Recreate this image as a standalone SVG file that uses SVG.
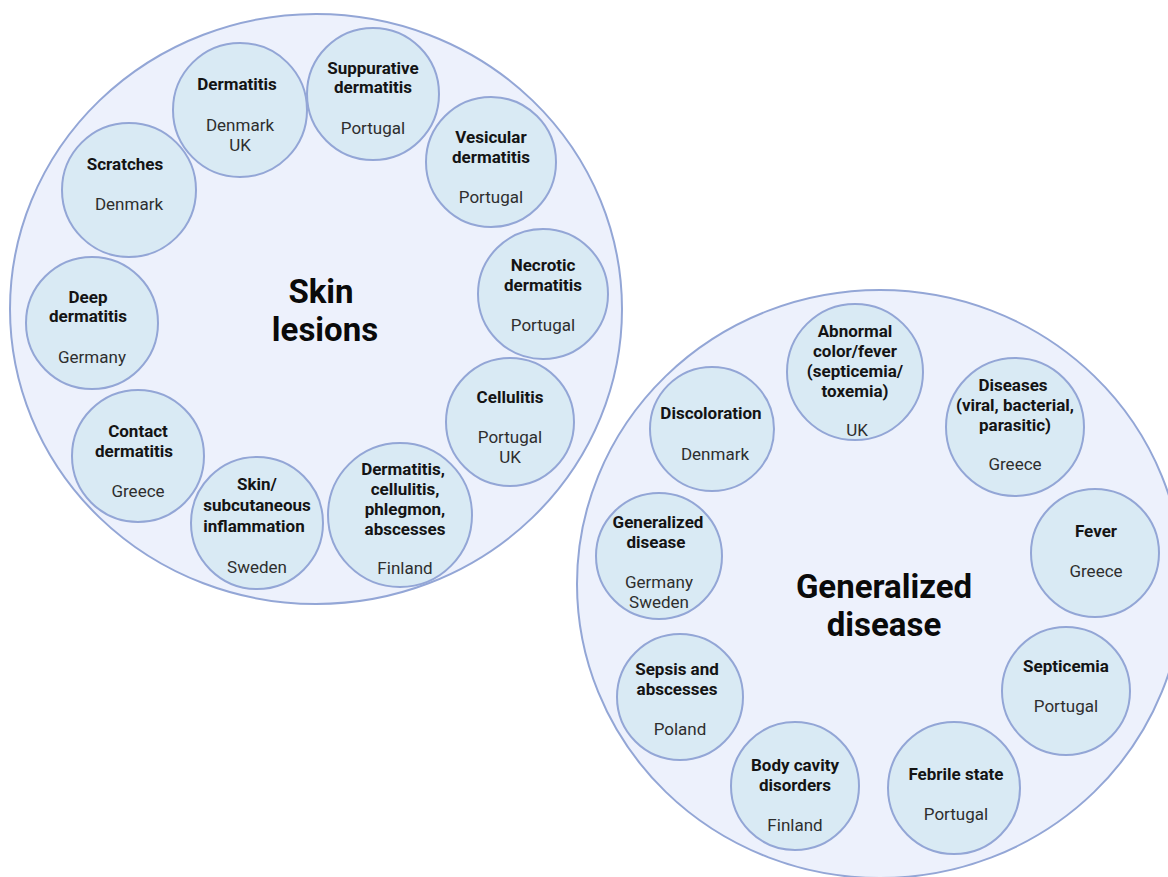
<svg xmlns="http://www.w3.org/2000/svg" width="1168" height="877" viewBox="0 0 1168 877">
<style>
.big{fill:#edf1fc;stroke:#93a6d6;stroke-width:2}
.n{fill:#d9eaf4;stroke:#93a6d6;stroke-width:2}
text{font-family:Roboto,"Liberation Sans",Arial,sans-serif;text-anchor:middle}
.b{font-weight:bold;font-size:17px;fill:#141414}
.c{font-size:17px;fill:#2e2e2e}
.t{font-weight:bold;font-size:33px;fill:#0a0a0a}
</style>
<rect width="1168" height="877" fill="#ffffff"/>
<g id="skin-lesions">
<ellipse class="big" cx="316" cy="309" rx="306" ry="295"/>
<text class="t" x="321" y="303">Skin</text>
<text class="t" x="325" y="341">lesions</text>
</g>
<g id="generalized">
<ellipse class="big" cx="880" cy="584" rx="303" ry="294"/>
<text class="t" x="884" y="598">Generalized</text>
<text class="t" x="884" y="636">disease</text>
</g>
<g id="connectors"></g>
<g id="n-dermatitis"><circle class="n" cx="240" cy="110" r="67"/><text class="b" x="237" y="90">Dermatitis</text><text class="c" x="240" y="131">Denmark</text><text class="c" x="240" y="151">UK</text></g>
<g id="n-scratches"><circle class="n" cx="129" cy="190" r="67"/><text class="b" x="125" y="170">Scratches</text><text class="c" x="129" y="210">Denmark</text></g>
<g id="n-suppurative"><circle class="n" cx="373" cy="94" r="66"/><text class="b" x="373" y="74">Suppurative</text><text class="b" x="373" y="93">dermatitis</text><text class="c" x="373" y="134">Portugal</text></g>
<g id="n-vesicular"><circle class="n" cx="491" cy="162" r="65"/><text class="b" x="491" y="143">Vesicular</text><text class="b" x="491" y="163">dermatitis</text><text class="c" x="491" y="203">Portugal</text></g>
<g id="n-necrotic"><circle class="n" cx="543" cy="294" r="65"/><text class="b" x="543" y="271">Necrotic</text><text class="b" x="543" y="291">dermatitis</text><text class="c" x="543" y="331">Portugal</text></g>
<g id="n-cellulitis"><circle class="n" cx="510" cy="422" r="64"/><text class="b" x="510" y="403">Cellulitis</text><text class="c" x="510" y="443">Portugal</text><text class="c" x="510" y="463">UK</text></g>
<g id="n-dcpa"><circle class="n" cx="400" cy="515" r="72"/><text class="b" x="403" y="475">Dermatitis,</text><text class="b" x="405" y="495">cellulitis,</text><text class="b" x="405" y="515">phlegmon,</text><text class="b" x="405" y="535">abscesses</text><text class="c" x="405" y="574">Finland</text></g>
<g id="n-skin-sub"><circle class="n" cx="257" cy="523" r="66"/><text class="b" x="257" y="490">Skin/</text><text class="b" x="257" y="511">subcutaneous</text><text class="b" x="254" y="532">inflammation</text><text class="c" x="257" y="573">Sweden</text></g>
<g id="n-contact"><circle class="n" cx="138" cy="456" r="66"/><text class="b" x="138" y="437">Contact</text><text class="b" x="134" y="457">dermatitis</text><text class="c" x="138" y="497">Greece</text></g>
<g id="n-deep"><circle class="n" cx="92" cy="323" r="66"/><text class="b" x="88" y="303">Deep</text><text class="b" x="88" y="322">dermatitis</text><text class="c" x="92" y="363">Germany</text></g>
<g id="n-abnormal"><circle class="n" cx="855" cy="372" r="68"/><text class="b" x="855" y="337">Abnormal</text><text class="b" x="855" y="357">color/fever</text><text class="b" x="855" y="377">(septicemia/</text><text class="b" x="855" y="397">toxemia)</text><text class="c" x="857" y="436">UK</text></g>
<g id="n-discoloration"><circle class="n" cx="712" cy="429" r="62"/><text class="b" x="711" y="419">Discoloration</text><text class="c" x="715" y="460">Denmark</text></g>
<g id="n-gendisease"><circle class="n" cx="659" cy="556" r="63"/><text class="b" x="658" y="528">Generalized</text><text class="b" x="656" y="548">disease</text><text class="c" x="659" y="588">Germany</text><text class="c" x="659" y="608">Sweden</text></g>
<g id="n-diseases"><circle class="n" cx="1015" cy="427" r="69"/><text class="b" x="1013" y="391">Diseases</text><text class="b" x="1015" y="411">(viral, bacterial,</text><text class="b" x="1015" y="431">parasitic)</text><text class="c" x="1015" y="470">Greece</text></g>
<g id="n-fever"><circle class="n" cx="1095" cy="553" r="64"/><text class="b" x="1096" y="537">Fever</text><text class="c" x="1096" y="577">Greece</text></g>
<g id="n-septicemia"><circle class="n" cx="1066" cy="691" r="64"/><text class="b" x="1066" y="672">Septicemia</text><text class="c" x="1066" y="712">Portugal</text></g>
<g id="n-febrile"><circle class="n" cx="954" cy="788" r="66"/><text class="b" x="956" y="780">Febrile state</text><text class="c" x="956" y="820">Portugal</text></g>
<g id="n-body"><circle class="n" cx="795" cy="786" r="64"/><text class="b" x="795" y="771">Body cavity</text><text class="b" x="795" y="791">disorders</text><text class="c" x="795" y="831">Finland</text></g>
<g id="n-sepsis"><circle class="n" cx="680" cy="697" r="63"/><text class="b" x="677" y="675">Sepsis and</text><text class="b" x="677" y="695">abscesses</text><text class="c" x="680" y="735">Poland</text></g>
</svg>
